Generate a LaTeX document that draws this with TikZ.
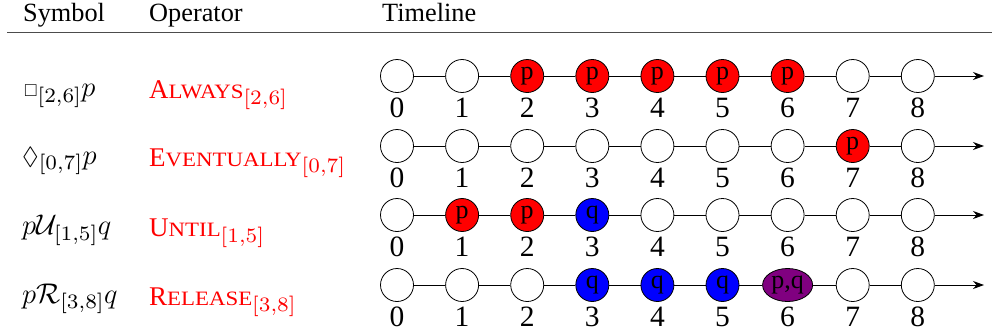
\RequirePackage{fix-cm}
\documentclass[tikz,border=0pt]{standalone}
\usepackage{amssymb}
\usepackage[no-math]{fontspec}
\setmainfont{Liberation Serif}
\newfontfamily\scfont[FakeStretch=1.12]{Liberation Serif}
\usetikzlibrary{arrows.meta,shapes.geometric}
\definecolor{pqcol}{HTML}{800080}
\font\subf=cmr7 at 20.5pt
\newcommand\sbs[1]{_{\hbox{\subf #1}}}
\newcommand\opn[2]{{\fontsize{27}{30}\selectfont #1}{\scfont\fontsize{20.4}{22}\selectfont #2}}
\newcommand\smbox{\hbox{\fontsize{17.28}{18}\selectfont$\square$}}
\newcommand\smdia{\hbox{\fontsize{24.88}{26}\selectfont$\Diamond$}}
\begin{document}
\begin{tikzpicture}[x=1pt,y=-1pt,
  st/.style={circle,draw=black,line width=0.8pt,fill=white,minimum size=33pt,inner sep=0pt,font=\fontsize{26}{26}\selectfont},
  rd/.style={st,fill=red},
  bl/.style={st,fill=blue},
  pu/.style={st,ellipse,fill=pqcol,minimum width=50pt,minimum height=33pt},
  num/.style={anchor=base,font=\fontsize{29.5}{30}\selectfont,inner sep=0pt},
  hd/.style={anchor=base west,font=\fontsize{26.3}{28}\selectfont,inner sep=0pt},
  sym/.style={anchor=base west,font=\fontsize{28.5}{30}\selectfont,inner sep=0pt},
  op/.style={sym,font=\fontsize{27}{30}\selectfont,text=red},
  link/.style={line width=0.8pt},
  tip/.style={link,-{Stealth[length=11pt,width=8pt]}}
]
\useasboundingbox (0,0) rectangle (992,333);
% header
\node[hd] (h1) at (23,21.7) {Symbol};
\node[hd] (h2) at (149,21.7) {Operator};
\node[hd] (h3) at (382,21.7) {Timeline};
\coordinate (rl) at (7,32.3);
\coordinate (rr) at (992,32.3);
\draw[line width=1.2pt,black!70] (rl) -- (rr);
% left columns
\node[sym] (s1) at (24,96.5) {$\smbox\sbs{[2,6]}p$};
\node[op] (o1) at (149,98) {\opn{A}{LWAYS}$\sbs{[2,6]}$};
\node[sym] (s2) at (22,164) {$\smdia\sbs{[0,7]}p$};
\node[op] (o2) at (149,166.5) {\opn{E}{VENTUALLY}$\sbs{[0,7]}$};
\node[sym] (s3) at (22,234.5) {$p\mathcal{U}\sbs{[1,5]}q$};
\node[op] (o3) at (149,236.7) {\opn{U}{NTIL}$\sbs{[1,5]}$};
\node[sym] (s4) at (22,303) {$p\mathcal{R}\sbs{[3,8]}q$};
\node[op] (o4) at (149,305) {\opn{R}{ELEASE}$\sbs{[3,8]}$};
% row 1
\foreach \i/\s/\t in {0/st/,1/st/,2/rd/p,3/rd/p,4/rd/p,5/rd/p,6/rd/p,7/st/,8/st/}{
  \node[\s] (a\i) at ({397+65.1*\i},76) {\t};
  \node[num] (na\i) at ({397+65.1*\i},117) {\i};
}
\foreach \i [remember=\i as \p (initially 0)] in {1,...,8} \draw[link] (a\p) -- (a\i);
\coordinate (ea) at (984,76);
\draw[tip] (a8) -- (ea);
% row 2
\foreach \i/\s/\t in {0/st/,1/st/,2/st/,3/st/,4/st/,5/st/,6/st/,7/rd/p,8/st/}{
  \node[\s] (b\i) at ({397+65.1*\i},146) {\t};
  \node[num] (nb\i) at ({397+65.1*\i},187) {\i};
}
\foreach \i [remember=\i as \p (initially 0)] in {1,...,8} \draw[link] (b\p) -- (b\i);
\coordinate (eb) at (984,146);
\draw[tip] (b8) -- (eb);
% row 3
\foreach \i/\s/\t in {0/st/,1/rd/p,2/rd/p,3/bl/q,4/st/,5/st/,6/st/,7/st/,8/st/}{
  \node[\s] (c\i) at ({397+65.1*\i},215) {\t};
  \node[num] (nc\i) at ({397+65.1*\i},256) {\i};
}
\foreach \i [remember=\i as \p (initially 0)] in {1,...,8} \draw[link] (c\p) -- (c\i);
\coordinate (ec) at (984,215);
\draw[tip] (c8) -- (ec);
% row 4
\foreach \i/\s/\t in {0/st/,1/st/,2/st/,3/bl/q,4/bl/q,5/bl/q,6/pu/{p,q},7/st/,8/st/}{
  \node[\s] (d\i) at ({397+65.1*\i},285) {\t};
  \node[num] (nd\i) at ({397+65.1*\i},326) {\i};
}
\foreach \i [remember=\i as \p (initially 0)] in {1,...,8} \draw[link] (d\p) -- (d\i);
\coordinate (ed) at (984,285);
\draw[tip] (d8) -- (ed);
\end{tikzpicture}
\end{document}
